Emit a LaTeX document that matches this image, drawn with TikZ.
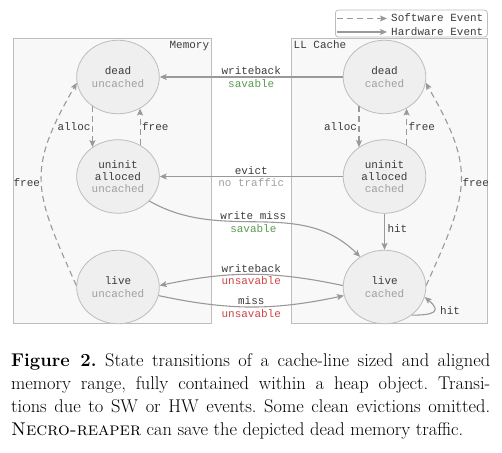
\documentclass[tikz,border=0pt]{standalone}
\usepackage{fontspec}
\newfontfamily\monofam{Liberation Mono}
\usetikzlibrary{shapes.geometric,arrows.meta}
\definecolor{lc}{HTML}{999999}
\definecolor{bx}{HTML}{BDBDBD}
\definecolor{bxfill}{HTML}{F8F8F8}
\definecolor{nfill}{HTML}{EFEFEF}
\definecolor{tdark}{HTML}{3C3C3C}
\definecolor{tlight}{HTML}{A0A0A0}
\definecolor{tgreen}{HTML}{5A9A50}
\definecolor{tred}{HTML}{CC4545}
\tikzset{
  state/.style={ellipse, draw=bx, fill=nfill, line width=0.8bp, minimum width=82.6bp, minimum height=73.5bp, inner sep=0pt, align=center, text=tdark, font=\monofam\fontsize{11}{12.3}\selectfont},
  region/.style={draw=bx, fill=bxfill, line width=0.8bp},
  hw/.style={draw=lc, line width=1.1bp, -{Stealth[length=7bp,width=6bp,inset=1.5bp]}},
  sw/.style={hw, dash pattern=on 6bp off 4bp},
  lbl/.style={text=tdark, font=\monofam\fontsize{11}{12.5}\selectfont, align=center, inner sep=2bp},
}
\begin{document}
\begin{tikzpicture}[x=1bp,y=1bp]
\useasboundingbox (0,0) rectangle (502,453);
% regions
\node[region, minimum width=198bp, minimum height=285bp, inner sep=0pt, anchor=south west] (mem) at (13,129) {};
\node[region, minimum width=196bp, minimum height=285bp, inner sep=0pt, anchor=south west] (llc) at (291,129) {};
\node[lbl, anchor=north east, inner sep=2.5bp] (memlbl) at (mem.north east) {Memory};
\node[lbl, anchor=north west, inner sep=2.5bp] (llclbl) at (llc.north west) {LL Cache};
% legend
\node[draw=bx, fill=white, rounded corners=3bp, line width=0.8bp, minimum width=152bp, minimum height=27bp, inner sep=0pt, anchor=south west] (leg) at (335,415.5) {};
\coordinate (l1a) at (337,434.5);
\coordinate (l1b) at (387,434.5);
\coordinate (l2a) at (337,421);
\coordinate (l2b) at (387,421);
\draw[sw] (l1a) -- (l1b);
\draw[hw] (l2a) -- (l2b);
\node[lbl, anchor=west, inner sep=0pt] (lt1) at (391,435) {Software Event};
\node[lbl, anchor=west, inner sep=0pt] (lt2) at (391,421.5) {Hardware Event};
% states
\node[state] (DU) at (118,376) {dead\\\textcolor{tlight}{uncached}};
\node[state] (UU) at (118,276.5) {uninit\\alloced\\\textcolor{tlight}{uncached}};
\node[state] (LU) at (118,166) {live\\\textcolor{tlight}{uncached}};
\node[state] (DC) at (384.5,376) {dead\\\textcolor{tlight}{cached}};
\node[state] (UC) at (384.5,276.5) {uninit\\alloced\\\textcolor{tlight}{cached}};
\node[state] (LC) at (384.5,166) {live\\\textcolor{tlight}{cached}};
% software events
\draw[sw] (DU.-131) -- node[lbl, left, inner sep=1.5bp] {alloc} (UU.131);
\draw[sw] (UU.55) -- node[lbl, right, inner sep=1.5bp] {free} (DU.-55);
\draw[sw] (DC.-131) -- node[lbl, left, inner sep=1.5bp] {alloc} (UC.131);
\draw[sw] (UC.55) -- node[lbl, right, inner sep=1.5bp] {free} (DC.-55);
\draw[sw] (LU.178) to[out=114, in=240, looseness=1.3] node[lbl, pos=0.5, left, inner sep=1bp] {free} (DU.188);
\draw[sw] (LC.2) to[out=66, in=-60, looseness=1.3] node[lbl, pos=0.5, right, inner sep=1bp] {free} (DC.352);
% hardware events
\draw[hw] (DC) -- node[lbl] {writeback\\\textcolor{tgreen}{savable}} (DU);
\draw[hw] (UC) -- node[lbl] {evict\\\textcolor{tlight}{no traffic}} (UU);
\draw[hw] (UU.-38) to[out=-30, in=135] node[lbl, pos=0.47] {write miss\\\textcolor{tgreen}{savable}} (LC.129);
\draw[hw] (UC) -- node[lbl, pos=0.4, right, inner sep=2.5bp] {hit} (LC);
\draw[hw] (LC.178) to[out=168, in=12] node[lbl, pos=0.5] {writeback\\\textcolor{tred}{unsavable}} (LU.2);
\draw[hw] (LU.-12) to[out=-12, in=192] node[lbl, pos=0.5] {miss\\\textcolor{tred}{unsavable}} (LC.-168);
\draw[hw] (LC.-46) to[out=0, in=-40, looseness=2.6] (LC.-14);
\node[lbl, anchor=west, inner sep=0pt] (hitlbl) at (440,142.3) {hit};
% caption
\node[anchor=base west, inner sep=0pt, align=left, font=\fontsize{18.5}{23.3}\selectfont\frenchspacing] (cap) at (11,17)
{\makebox[479bp][s]{\textbf{Figure 2.} State transitions of a cache-line sized and aligned}\\
\makebox[479bp][s]{memory range, fully contained within a heap object. Transi-}\\
\makebox[479bp][s]{tions due to SW or HW events. Some clean evictions omitted.}\\
\textsc{Necro-reaper} can save the depicted dead memory traffic.};
\end{tikzpicture}
\end{document}
